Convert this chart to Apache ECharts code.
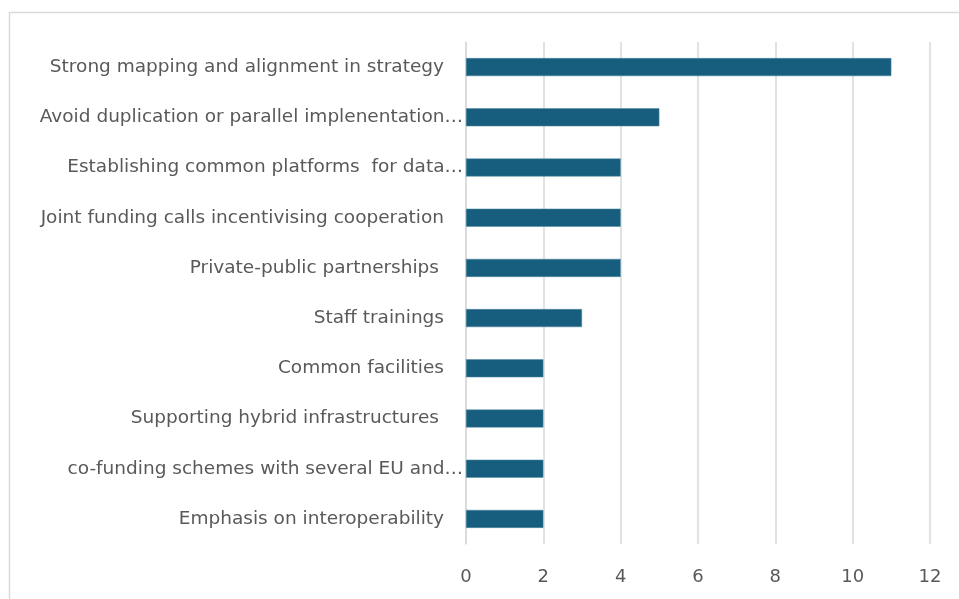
<!DOCTYPE html>
<html><head><meta charset="utf-8">
<script src="https://cdn.jsdelivr.net/npm/echarts@6/dist/echarts.min.js"></script>
<style>html,body{margin:0;padding:0;background:#fff}#c{width:959px;height:599px}</style>
</head><body><div id="c"></div>
<script>
const categories = [
  "Strong mapping and alignment in strategy",
  "Avoid duplication or parallel implenentation…",
  "Establishing common platforms  for data…",
  "Joint funding calls incentivising cooperation",
  "Private-public partnerships",
  "Staff trainings",
  "Common facilities",
  "Supporting hybrid infrastructures",
  "co-funding schemes with several EU and…",
  "Emphasis on interoperability"
];
const values = [11, 5, 4, 4, 4, 3, 2, 2, 2, 2];
const xTicks = [0, 2, 4, 6, 8, 10, 12];
const truncated = new Set([categories[1], categories[2], categories[8]]);
const extraPad = new Set([categories[4], categories[7]]);

const chart = echarts.init(document.getElementById('c'));
chart.setOption({
  animation: false,
  textStyle: {fontFamily: 'DejaVu Sans'},
  graphic: [{type: 'rect', shape: {x: 9.5, y: 12.5, width: 1000, height: 700}, style: {fill: 'none', stroke: '#d9d9d9', lineWidth: 1.5}}],
  grid: {left: 466, right: 29, top: 42, bottom: 55, containLabel: false},
  xAxis: {
    type: 'value', min: 0, max: 12, interval: 2,
    axisLine: {show: false}, axisTick: {show: false},
    splitLine: {lineStyle: {color: '#d9d9d9', width: 1.5}},
    axisLabel: {color: '#595959', fontSize: 18, margin: 24, formatter: v => xTicks.includes(v) ? String(v) : ''}
  },
  yAxis: {
    type: 'category', inverse: true, data: categories,
    axisLine: {show: true, lineStyle: {color: '#d9d9d9', width: 1.5}},
    axisTick: {show: false},
    axisLabel: {
      color: '#595959', fontSize: 18.5, margin: 3,
      formatter: v => truncated.has(v) ? v : (extraPad.has(v) ? v + '{s2|}' : v + '{s|}'),
      rich: {s: {width: 19}, s2: {width: 24}}
    }
  },
  series: [{
    type: 'bar', data: values, barWidth: 18,
    itemStyle: {color: '#175e7e', borderColor: '#4f88a3', borderWidth: 0.5}
  }]
});
</script></body></html>
